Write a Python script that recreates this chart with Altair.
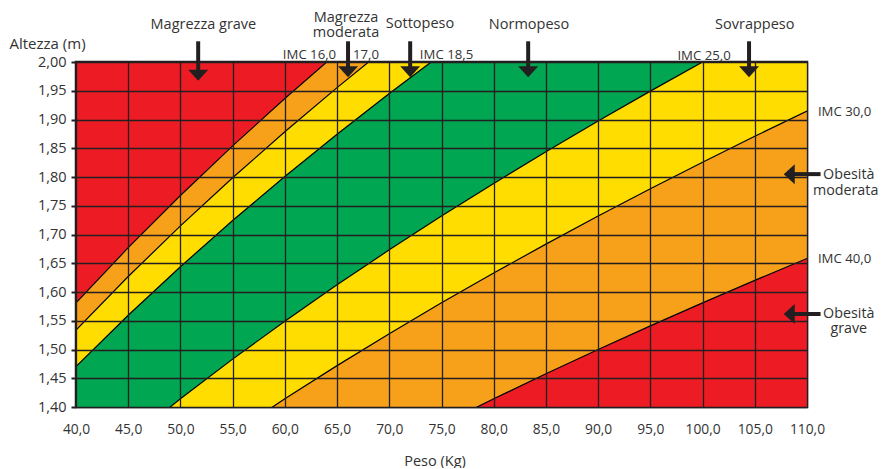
import altair as alt
import pandas as pd
import math

# ---- data ----
WEIGHT_TICKS = [40.0, 45.0, 50.0, 55.0, 60.0, 65.0, 70.0, 75.0, 80.0, 85.0, 90.0, 95.0, 100.0, 105.0, 110.0]
HEIGHT_TICKS = [1.40, 1.45, 1.50, 1.55, 1.60, 1.65, 1.70, 1.75, 1.80, 1.85, 1.90, 1.95, 2.00]
IMC_LIMITS = [16.0, 17.0, 18.5, 25.0, 30.0, 40.0]
BAND_NAMES = ["Magrezza grave", "Magrezza moderata", "Sottopeso", "Normopeso",
              "Sovrappeso", "Obesità moderata", "Obesità grave"]
BAND_COLORS = ["#ED1C24", "#F7A11B", "#FFDD00", "#00A651", "#FFDD00", "#F7A11B", "#ED1C24"]

# annotation texts (weight, height of baseline)
TOP_TEXT = ["Magrezza grave", "Magrezza", "moderata", "Sottopeso", "Normopeso", "Sovrappeso"]
TOP_TEXT_W = [52.2, 65.86, 65.86, 72.94, 83.38, 105.0]
TOP_TEXT_H = [2.0574, 2.0696, 2.0435, 2.0583, 2.0574, 2.0574]

IMC_TEXT = ["IMC 16,0", "17,0", "IMC 18,5", "IMC 25,0", "IMC 30,0", "IMC 40,0"]
IMC_TEXT_W = [62.36, 67.77, 75.48, 100.14, 113.6, 113.6]
IMC_TEXT_H = [2.0045, 2.0045, 2.0045, 2.0035, 1.9061, 1.6510]

SIDE_TEXT = ["Obesità", "moderata", "Obesità", "grave"]
SIDE_TEXT_W = [114.0, 113.7, 114.0, 114.0]
SIDE_TEXT_H = [1.7965, 1.7687, 1.5548, 1.5287]

DOWN_ARROW_W = [51.7, 66.05, 72.0, 83.3, 104.45]
DOWN_ARROW_TOP = [2.036, 2.036, 2.036, 2.036, 2.036]
DOWN_ARROW_END = [1.984, 1.989, 1.989, 1.989, 1.989]
DOWN_ARROW_HEAD = [1.977, 1.983, 1.983, 1.983, 1.983]

LEFT_ARROW_H = [1.805, 1.5617]
LEFT_ARROW_TAIL = [111.3, 111.3]
LEFT_ARROW_END = [108.5, 108.5]
LEFT_ARROW_HEAD = [108.3, 108.3]

INK = "#231f20"
TXT = "#333333"
FONT = "Open Sans"

# ---- tables ----
H_MIN, H_MAX = HEIGHT_TICKS[0], HEIGHT_TICKS[-1]
band_rows = []
for i, name in enumerate(BAND_NAMES):
    for w in WEIGHT_TICKS:
        # higher IMC -> lower height at the same weight
        top = math.sqrt(w / IMC_LIMITS[i - 1]) if i > 0 else H_MAX
        bot = math.sqrt(w / IMC_LIMITS[i]) if i < len(IMC_LIMITS) else H_MIN
        band_rows.append({"band": name, "w": w, "bot": bot, "top": top})
bands = pd.DataFrame(band_rows)

line_rows = []
for lim in IMC_LIMITS:
    for w in WEIGHT_TICKS:
        line_rows.append({"imc": lim, "w": w, "h": math.sqrt(w / lim)})
lines = pd.DataFrame(line_rows)

texts = pd.DataFrame({
    "t": TOP_TEXT + IMC_TEXT + SIDE_TEXT,
    "w": TOP_TEXT_W + IMC_TEXT_W + SIDE_TEXT_W,
    "h": TOP_TEXT_H + IMC_TEXT_H + SIDE_TEXT_H,
    "s": [14.5] * len(TOP_TEXT) + [13.2] * len(IMC_TEXT) + [14.3] * len(SIDE_TEXT),
})
down = pd.DataFrame({"w": DOWN_ARROW_W, "top": DOWN_ARROW_TOP, "end": DOWN_ARROW_END, "head": DOWN_ARROW_HEAD})
left = pd.DataFrame({"h": LEFT_ARROW_H, "tail": LEFT_ARROW_TAIL, "end": LEFT_ARROW_END, "head": LEFT_ARROW_HEAD})

xscale = alt.Scale(domain=[WEIGHT_TICKS[0], WEIGHT_TICKS[-1]], nice=False, zero=False)
yscale = alt.Scale(domain=[H_MIN, H_MAX], nice=False, zero=False)

xaxis = alt.Axis(values=WEIGHT_TICKS, labelExpr="replace(format(datum.value, '.1f'), '.', ',')",
                 grid=True, gridColor=INK, gridWidth=1.3, gridOpacity=1, ticks=False, tickSize=0,
                 domain=False, labelFont=FONT, labelFontSize=13.8, labelColor=TXT, labelPadding=26,
                 labelBaseline="alphabetic", labelFlush=False, labelOverlap=False,
                 title="Peso (Kg)", titleFont=FONT, titleFontSize=14.5, titleFontWeight="normal",
                 titleColor=TXT, titleX=358.5, titleY=58, titleBaseline="alphabetic", zindex=1)
yaxis = alt.Axis(values=HEIGHT_TICKS, labelExpr="replace(format(datum.value, '.2f'), '.', ',')",
                 grid=True, gridColor=INK, gridWidth=1.3, gridOpacity=1, tickSize=5, tickColor=INK,
                 tickWidth=2, domain=False, labelFont=FONT, labelFontSize=14.5, labelColor=TXT,
                 labelPadding=5, labelFlush=False, labelOverlap=False,
                 title="Altezza (m)", titleFont=FONT, titleFontSize=15, titleFontWeight="normal",
                 titleColor=TXT, titleAngle=0, titleAlign="left", titleBaseline="alphabetic",
                 titleX=-67, titleY=-14, zindex=1)


def X(field):
    return alt.X(field, scale=xscale, axis=xaxis)


def Y(field):
    return alt.Y(field, scale=yscale, axis=yaxis)


area = alt.Chart(bands).mark_area(clip=True, opacity=1).encode(
    x=X("w:Q"),
    y=alt.Y("bot:Q", scale=yscale, axis=yaxis, stack=None),
    y2="top:Q",
    color=alt.Color("band:N", scale=alt.Scale(domain=BAND_NAMES, range=BAND_COLORS), legend=None),
)

bounds = alt.Chart(lines).mark_line(clip=True, color="#000000", strokeWidth=1.2).encode(
    x=X("w:Q"),
    y=Y("h:Q"),
    detail="imc:N",
)

labels = alt.Chart(texts).mark_text(font=FONT, color=TXT, align="center", baseline="alphabetic").encode(
    x=X("w:Q"),
    y=Y("h:Q"),
    text="t:N",
    size=alt.Size("s:Q", scale=None, legend=None),
)

down_shaft = alt.Chart(down).mark_rule(color=INK, strokeWidth=4).encode(
    x=X("w:Q"),
    y=Y("top:Q"),
    y2="end:Q",
)
down_head = alt.Chart(down).mark_point(shape="M-1,-0.55L1,-0.55L0,0.55Z", size=400, filled=True,
                                       color=INK, opacity=1).encode(
    x=X("w:Q"),
    y=Y("head:Q"),
)
left_shaft = alt.Chart(left).mark_rule(color=INK, strokeWidth=4).encode(
    x=X("tail:Q"),
    x2="end:Q",
    y=Y("h:Q"),
)
left_head = alt.Chart(left).mark_point(shape="M0.55,-1L0.55,1L-0.55,0Z", size=400, filled=True,
                                       color=INK, opacity=1).encode(
    x=X("head:Q"),
    y=Y("h:Q"),
)

chart = alt.layer(area, bounds, labels, down_shaft, down_head, left_shaft, left_head).properties(
    width=731, height=345,
    autosize=alt.AutoSizeParams(type="none"),
    padding={"left": 68, "top": 54, "right": 71, "bottom": 61},
).configure_view(stroke=INK, strokeWidth=2.5)

chart.save("out.html", embed_options={"renderer": "svg", "actions": False})
